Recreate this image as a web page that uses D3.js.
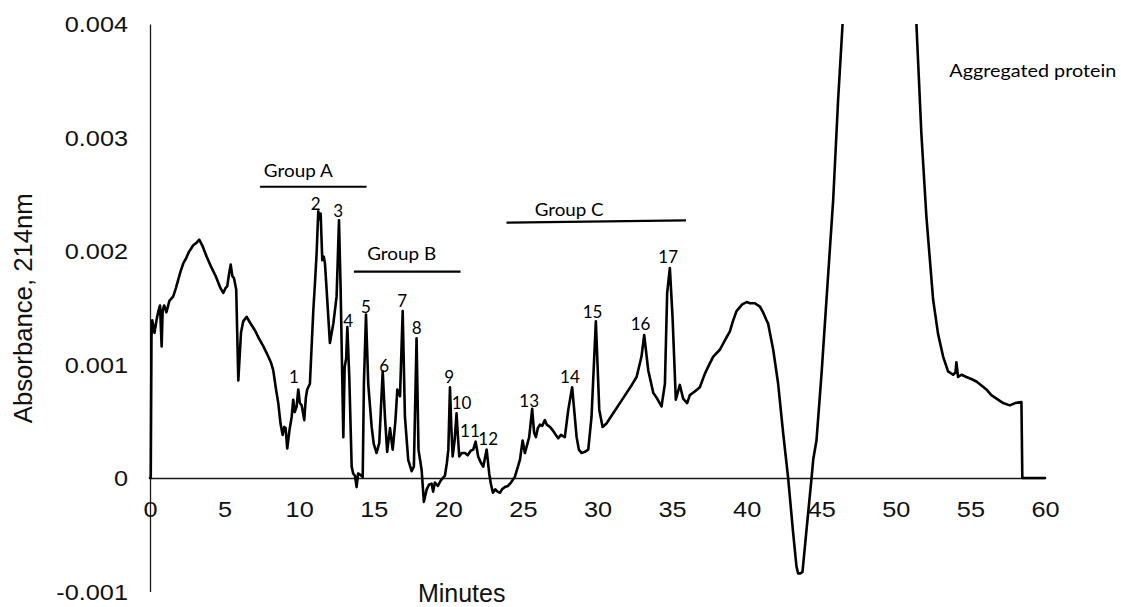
<!DOCTYPE html>
<html>
<head>
<meta charset="utf-8">
<script src="https://cdn.jsdelivr.net/npm/d3@7"></script>
<style>
  html, body { margin: 0; padding: 0; background: #fff; }
  svg { display: block; }
</style>
</head>
<body>
<script>
// ---------- DATA ----------
const timeMin = [0,0.05,0.1,0.15,0.3,0.45,0.56,0.67,0.78,0.85,0.95,1.1,1.3,1.56,1.75,1.9,2.05,2.23,2.4,2.6,2.9,3.1,3.3,3.5,3.8,4.1,4.4,4.7,4.91,5.05,5.18,5.3,5.41,5.52,5.63,5.78,5.92,6.1,6.25,6.48,6.7,7.04,7.3,7.6,7.93,8.1,8.26,8.45,8.6,8.75,8.89,9.0,9.09,9.2,9.35,9.5,9.6,9.7,9.83,9.94,10.05,10.17,10.34,10.45,10.54,10.72,10.85,10.95,11.06,11.17,11.28,11.36,11.44,11.55,11.65,11.73,11.84,12.06,12.29,12.51,12.67,12.78,12.96,13.05,13.15,13.23,13.36,13.52,13.62,13.74,13.85,13.95,14.07,14.26,14.34,14.48,14.63,14.86,15.0,15.19,15.37,15.6,15.75,15.9,16.09,16.27,16.45,16.58,16.76,16.94,17.09,17.31,17.54,17.69,17.87,18.0,18.21,18.36,18.55,18.7,18.88,18.98,19.1,19.3,19.5,19.77,19.9,20.0,20.11,20.2,20.29,20.42,20.55,20.65,20.73,20.9,21.11,21.3,21.5,21.67,21.83,22.0,22.2,22.34,22.57,22.74,22.85,22.99,23.15,23.3,23.46,23.6,23.79,24.0,24.2,24.46,24.8,24.98,25.13,25.3,25.42,25.62,25.75,25.87,26.0,26.14,26.3,26.47,26.6,26.81,27.0,27.2,27.37,27.55,27.81,28.04,28.3,28.45,28.6,28.75,28.93,29.15,29.38,29.6,29.89,30.12,30.34,30.6,31.05,31.5,31.95,32.3,32.62,32.95,33.13,33.4,33.74,34.0,34.29,34.52,34.67,34.85,35.03,35.25,35.52,35.74,36.01,36.19,36.5,36.86,37.2,37.53,37.76,38.2,38.65,38.87,39.1,39.32,39.7,40.0,40.22,40.55,40.89,41.1,41.33,41.44,41.78,42.11,42.45,42.78,43.12,43.34,43.45,43.6,43.74,44.01,44.35,44.46,44.68,45.02,45.35,45.8,46.13,46.43,46.8,47.5,49.0,50.5,51.0,51.38,51.71,52.05,52.5,52.83,53.17,53.5,53.84,54.0,54.06,54.17,54.4,54.73,55.1,55.4,55.7,56.07,56.4,56.75,57.2,57.64,58.0,58.42,58.48,60];
const absorbance = [0,0,0.00125,0.00139,0.00128,0.0014,0.00147,0.00152,0.00116,0.00148,0.00152,0.00146,0.00156,0.0016,0.00168,0.00175,0.00182,0.00189,0.00193,0.00199,0.00205,0.00207,0.0021,0.00205,0.00195,0.00186,0.00178,0.00168,0.00163,0.00167,0.00169,0.0018,0.00188,0.00178,0.00176,0.00166,0.00086,0.00128,0.00138,0.00142,0.00137,0.0013,0.00123,0.00116,0.00107,0.00102,0.00095,0.00078,0.00066,0.00048,0.00038,0.00045,0.00044,0.00026,0.00042,0.00054,0.00069,0.00058,0.00063,0.00078,0.00066,0.00064,0.00051,0.00071,0.00078,0.00083,0.0012,0.00148,0.00172,0.00198,0.00235,0.00228,0.00233,0.00192,0.00195,0.00189,0.00166,0.00119,0.00136,0.0016,0.00227,0.00166,0.00036,0.00098,0.00105,0.00133,0.00089,0.0001,0.00004,0.00002,-0.00008,0.00004,0.00003,0.00001,0.00083,0.00144,0.00083,0.00045,0.0003,0.00022,0.00031,0.00094,0.00054,0.00023,0.00044,0.00025,0.0005,0.00078,0.00072,0.00147,0.00054,0.00016,0.00006,0.0001,0.00123,0.00025,0.00007,-0.00021,-0.0001,-0.00006,-0.00005,-0.00012,-0.00004,-0.00007,-0.00002,0.00002,0.00013,0.00025,0.0008,0.00045,0.00019,0.00033,0.00057,0.00035,0.00019,0.00022,0.00022,0.0002,0.00024,0.00025,0.00032,0.00019,0.00013,0.0001,0.00025,0.00004,-0.00005,-0.00013,-0.0001,-0.00012,-0.00013,-0.0001,-0.00008,-0.00007,-0.00004,0.00001,0.00016,0.00033,0.00022,0.0003,0.00036,0.00061,0.0004,0.00036,0.00044,0.00047,0.00046,0.00051,0.00047,0.00045,0.00042,0.00038,0.00035,0.00038,0.00036,0.0006,0.0008,0.00058,0.00036,0.00025,0.00022,0.00023,0.00025,0.00054,0.00138,0.0006,0.00045,0.00048,0.00057,0.00066,0.00075,0.00082,0.00089,0.00107,0.00126,0.00095,0.00075,0.0007,0.00063,0.00083,0.00163,0.00185,0.00142,0.00069,0.00082,0.0007,0.00066,0.00073,0.00076,0.0008,0.00092,0.00101,0.00107,0.00113,0.00124,0.00129,0.00139,0.00147,0.00153,0.00155,0.00154,0.00154,0.00151,0.00146,0.00139,0.00136,0.00113,0.00083,0.00039,0,-0.00049,-0.00078,-0.00084,-0.00084,-0.00083,-0.00046,0,0.00016,0.00033,0.00092,0.00157,0.00245,0.00333,0.004,0.0048,0.006,0.0068,0.006,0.0048,0.004,0.00304,0.0023,0.00157,0.00127,0.00107,0.00094,0.00091,0.00093,0.00102,0.00089,0.00091,0.00089,0.00087,0.00085,0.00082,0.00078,0.00073,0.0007,0.00066,0.00064,0.00066,0.00067,0,0];

const xTicks = [0,5,10,15,20,25,30,35,40,45,50,55,60];
const yTicks = [-0.001,0,0.001,0.002,0.003,0.004];
const yTickLabels = ["-0.001","0","0.001","0.002","0.003","0.004"];

const xTitle = "Minutes";
const yTitle = "Absorbance, 214nm";

// peak number labels: text, anchor time, anchor absorbance (text baseline)
const peakNames = ["1","2","3","4","5","6","7","8","9","10","11","12","13","14","15","16","17"];
const peakLabelT = [9.65,11.11,12.62,13.29,14.48,15.7,16.91,17.88,20.06,20.89,21.45,22.67,25.42,28.15,29.67,32.89,34.74];
const peakLabelV = [0.000834,0.002361,0.002302,0.001333,0.001456,0.000937,0.001504,0.001269,0.00084,0.000605,0.000359,0.000291,0.000628,0.000834,0.001407,0.001304,0.001892];

// group bars
const groupNames = ["Group A","Group B","Group C"];
const groupStart = [7.37,13.67,23.9];
const groupEnd = [14.52,20.82,35.93];
const groupStartV = [0.002566,0.001818,0.00225];
const groupEndV = [0.002566,0.001818,0.00227];
const groupLabelT = [9.94,16.87,28.1];
const groupLabelV = [0.002655,0.00192,0.00231];

const noteText = "Aggregated protein";
const noteT = 59.18, noteV = 0.003536;

// ---------- DRAW ----------
const W = 1121, H = 607;
const svg = d3.select("body").append("svg").attr("width", W).attr("height", H);

const x = d3.scaleLinear().domain([0, 60]).range([150, 1045]);
const y = d3.scaleLinear().domain([-0.001, 0.004]).range([591.5, 24]);

const axisFont = "'Liberation Sans', Arial, sans-serif";
const annFont = "Lato, 'Open Sans', sans-serif";

// x axis at y=0
const gx = svg.append("g").attr("transform", `translate(0,${y(0)})`)
  .call(d3.axisBottom(x).tickValues(xTicks).tickSize(0).tickSizeOuter(0).tickFormat(d3.format("d")));
gx.select(".domain").attr("stroke", "#1a1a1a").attr("stroke-width", 1.3);
gx.selectAll(".tick text")
  .attr("x", null).attr("y", null).attr("dy", null)
  .attr("transform", "translate(0,39) scale(1.15,1)")
  .attr("font-family", axisFont).attr("font-size", 22).attr("fill", "#111")
  .attr("text-anchor", "middle");

// y axis
const gy = svg.append("g").attr("transform", `translate(${x(0)},0)`)
  .call(d3.axisLeft(y).tickValues(yTicks).tickSize(0).tickSizeOuter(0)
    .tickFormat((d, i) => yTickLabels[i]));
gy.select(".domain").attr("stroke", "#1a1a1a").attr("stroke-width", 1.3);
gy.selectAll(".tick text")
  .attr("x", null).attr("dy", "0.36em")
  .attr("transform", "translate(-22,0) scale(1.15,1)")
  .attr("font-family", axisFont).attr("font-size", 22).attr("fill", "#111")
  .attr("text-anchor", "end");

// titles
svg.append("text")
  .attr("transform", `translate(32,${(y(0.004)+y(-0.001))/2 + 0.5}) rotate(-90)`)
  .attr("text-anchor", "middle")
  .attr("font-family", axisFont).attr("font-size", 25).attr("fill", "#111")
  .attr("textLength", 230).attr("lengthAdjust", "spacingAndGlyphs")
  .text(yTitle);
svg.append("text")
  .attr("x", 461.7).attr("y", 601.5)
  .attr("text-anchor", "middle")
  .attr("font-family", axisFont).attr("font-size", 25).attr("fill", "#111")
  .text(xTitle);

// clip
svg.append("defs").append("clipPath").attr("id", "plotclip")
  .append("rect").attr("x", 0).attr("y", y(0.004)).attr("width", W).attr("height", H);

const pts = timeMin.map((t, i) => [t, absorbance[i]]);
const line = d3.line().x(d => x(d[0])).y(d => y(d[1]));
svg.append("path")
  .attr("clip-path", "url(#plotclip)")
  .attr("d", line(pts))
  .attr("fill", "none").attr("stroke", "#000").attr("stroke-width", 2.6)
  .attr("stroke-linejoin", "round").attr("stroke-linecap", "round");

// group bars
groupNames.forEach((g, i) => {
  svg.append("line")
    .attr("x1", x(groupStart[i])).attr("x2", x(groupEnd[i]))
    .attr("y1", y(groupStartV[i])).attr("y2", y(groupEndV[i]))
    .attr("stroke", "#000").attr("stroke-width", 2.2);
  svg.append("text")
    .attr("x", x(groupLabelT[i])).attr("y", y(groupLabelV[i]))
    .attr("text-anchor", "middle")
    .attr("font-family", annFont).attr("font-size", 18).attr("fill", "#000")
    .attr("textLength", 69).attr("lengthAdjust", "spacingAndGlyphs")
    .text(g);
});

// peak numbers
peakNames.forEach((p, i) => {
  svg.append("text")
    .attr("x", x(peakLabelT[i])).attr("y", y(peakLabelV[i]))
    .attr("text-anchor", "middle")
    .attr("font-family", annFont).attr("font-size", 17).attr("fill", "#000")
    .text(p);
});

// note
svg.append("text")
  .attr("x", x(noteT)).attr("y", y(noteV))
  .attr("text-anchor", "middle")
  .attr("font-family", annFont).attr("font-size", 18).attr("fill", "#000")
  .attr("textLength", 167).attr("lengthAdjust", "spacingAndGlyphs")
  .text(noteText);
</script>
</body>
</html>
